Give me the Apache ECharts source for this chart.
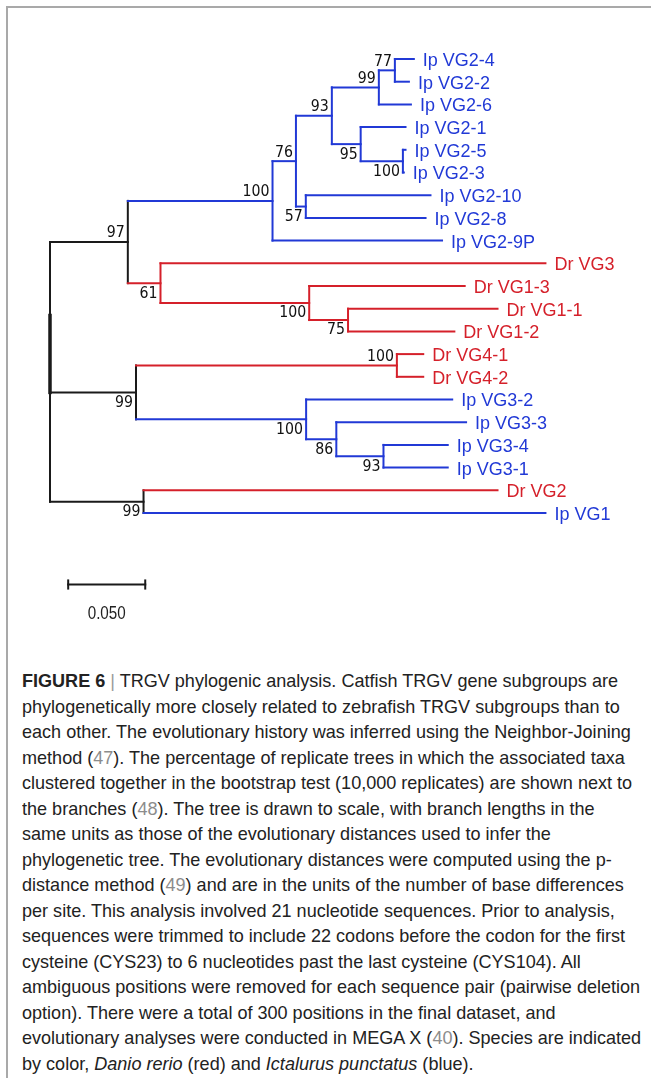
<!DOCTYPE html>
<html>
<head>
<meta charset="utf-8">
<script src="https://cdn.jsdelivr.net/npm/echarts@6/dist/echarts.min.js"></script>
<style>
html, body { margin: 0; padding: 0; background: #fff; width: 651px; height: 1078px; overflow: hidden; }
.frame { position: absolute; left: 6px; top: 6px; width: 700px; height: 1100px; border-top: 2px solid #a9a9a9; border-left: 2px solid #a9a9a9; }
#tree { position: absolute; left: 0; top: 0; width: 651px; height: 640px; }
.caption { position: absolute; left: 22px; top: 668px; font-family: 'Liberation Sans Narrow', 'Arial Narrow', 'Liberation Sans', Arial, sans-serif; font-size: 19px; color: #222; white-space: nowrap; transform-origin: 0 0; }
.caption div { height: 25.5px; line-height: 25.5px; }
.ref { color: #8c8c8c; }
.sep { color: #9a9a9a; }
</style>
</head>
<body>
<div class="frame"></div>
<div id="tree"></div>
<div class="caption" id="caption">
<div id="firstLine"><b>FIGURE 6</b> <span class="sep">|</span> TRGV phylogenic analysis. Catfish TRGV gene subgroups are</div>
<div>phylogenetically more closely related to zebrafish TRGV subgroups than to</div>
<div>each other. The evolutionary history was inferred using the Neighbor-Joining</div>
<div>method (<span class="ref">47</span>). The percentage of replicate trees in which the associated taxa</div>
<div>clustered together in the bootstrap test (10,000 replicates) are shown next to</div>
<div>the branches (<span class="ref">48</span>). The tree is drawn to scale, with branch lengths in the</div>
<div>same units as those of the evolutionary distances used to infer the</div>
<div>phylogenetic tree. The evolutionary distances were computed using the p-</div>
<div>distance method (<span class="ref">49</span>) and are in the units of the number of base differences</div>
<div>per site. This analysis involved 21 nucleotide sequences. Prior to analysis,</div>
<div>sequences were trimmed to include 22 codons before the codon for the first</div>
<div>cysteine (CYS23) to 6 nucleotides past the last cysteine (CYS104). All</div>
<div>ambiguous positions were removed for each sequence pair (pairwise deletion</div>
<div>option). There were a total of 300 positions in the final dataset, and</div>
<div>evolutionary analyses were conducted in MEGA X (<span class="ref">40</span>). Species are indicated</div>
<div>by color, <i>Danio rerio</i> (red) and <i>Ictalurus punctatus</i> (blue).</div>
</div>
<script>
// 叶子节点(从上到下)
const leafNames = ['Ip VG2-4', 'Ip VG2-2', 'Ip VG2-6', 'Ip VG2-1', 'Ip VG2-5', 'Ip VG2-3', 'Ip VG2-10', 'Ip VG2-8', 'Ip VG2-9P',
    'Dr VG3', 'Dr VG1-3', 'Dr VG1-1', 'Dr VG1-2', 'Dr VG4-1', 'Dr VG4-2',
    'Ip VG3-2', 'Ip VG3-3', 'Ip VG3-4', 'Ip VG3-1', 'Dr VG2', 'Ip VG1']
// 叶子到根的距离
const leafDepth = [0.2361, 0.2329, 0.2342, 0.2307, 0.2307, 0.2296, 0.2469, 0.2437, 0.2544,
    0.3215, 0.2691, 0.2904, 0.2624, 0.2422, 0.2422,
    0.2610, 0.2700, 0.2581, 0.2581, 0.2904, 0.3215]

// 内部节点, 子节点要先于父节点出现
const nodeIds = ['n77', 'n99a', 'n100a', 'n95', 'n93a', 'n57', 'n76', 'n100b', 'n75', 'n100c', 'n61', 'n97',
    'n100d', 'n93b', 'n86', 'n100e', 'n99b', 'n99c', 'root']
const nodeChildren = [[0, 1], ['n77', 2], [4, 5], [3, 'n100a'], ['n99a', 'n95'], [6, 7], ['n93a', 'n57'], ['n76', 8],
    [11, 12], [10, 'n75'], [9, 'n100c'], ['n100b', 'n61'],
    [13, 14], [17, 18], [16, 'n93b'], [15, 'n86'], ['n100d', 'n100e'], [19, 20], ['n97', 'n99b', 'n99c']]
const nodeDepth = [0.2238, 0.2134, 0.2290, 0.2016, 0.1829, 0.1660, 0.1596, 0.1444, 0.1934, 0.1682, 0.0717, 0.0505,
    0.2251, 0.2164, 0.1858, 0.1662, 0.0558, 0.0607, 0]
// bootstrap 值
const nodeSupport = [77, 99, 100, 95, 93, 57, 76, 100, 75, 100, 61, 97, 100, 93, 86, 100, 99, 99, null]
const supportAbove = [1, 1, 0, 0, 1, 0, 1, 1, 0, 0, 0, 1, 1, 0, 0, 0, 0, 0, 0]

// 比例尺
const scaleBarStart = 0.0118
const scaleBarLength = 0.05
const scaleBarRow = 23.15
const scaleBarText = '0.050'
const rootBoldFrom = 11.3

const RED = '#d5202a'
const BLUE = '#2139d6'
const BLACK = '#1a1a1a'

function speciesColor(name) {
    return name.indexOf('Dr') === 0 ? RED : BLUE
}

// 计算节点位置和颜色
const pos = {}
leafNames.forEach((n, i) => {
    pos[i] = { x: leafDepth[i], y: i, color: speciesColor(n) }
})
nodeIds.forEach((id, k) => {
    const ch = nodeChildren[k].map(c => pos[c])
    const y = (ch[0].y + ch[ch.length - 1].y) / 2
    const same = ch.every(c => c.color === ch[0].color)
    pos[id] = { x: nodeDepth[k], y: y, color: same ? ch[0].color : BLACK, children: ch }
})

// 枝条线段 [x1, y1, x2, y2]
const segments = []
const segStyle = []
nodeIds.forEach(id => {
    const nd = pos[id]
    const ch = nd.children
    segments.push([nd.x, ch[0].y, nd.x, ch[ch.length - 1].y])
    segStyle.push({ color: nd.color, width: 2 })
    ch.forEach(c => {
        segments.push([nd.x, c.y, c.x, c.y])
        segStyle.push({ color: c.color, width: 2 })
    })
})
// 根部加粗的一段
segments.push([0, rootBoldFrom, 0, pos['n99b'].y])
segStyle.push({ color: BLACK, width: 3.5 })
// 比例尺线
const capH = 0.18
segments.push([scaleBarStart, scaleBarRow, scaleBarStart + scaleBarLength, scaleBarRow])
segments.push([scaleBarStart, scaleBarRow - capH, scaleBarStart, scaleBarRow + capH])
segments.push([scaleBarStart + scaleBarLength, scaleBarRow - capH, scaleBarStart + scaleBarLength, scaleBarRow + capH])
for (let i = 0; i < 3; i++) segStyle.push({ color: BLACK, width: 2 })

// 文字宽度, 用来压窄
function textWidth(txt, font) {
    const ctx = document.createElement('canvas').getContext('2d')
    ctx.font = font
    return ctx.measureText(txt).width
}
const narrowFont = "'Liberation Sans Narrow', 'Arial Narrow', 'Liberation Sans', Arial, sans-serif"
const supportFont = "15px 'DejaVu Sans', Verdana, sans-serif"
const scaleTextSX = 38 / textWidth(scaleBarText, '18px ' + narrowFont)
const supportSX = 27 / textWidth('100', supportFont)

const myChart = echarts.init(document.querySelector('#tree'))
const option = {
    animation: false,
    grid: { left: 50, top: 59, width: 603, height: 25 * 22.7 },
    xAxis: { type: 'value', min: 0, max: 0.39, show: false },
    yAxis: { type: 'value', min: 0, max: 25, inverse: true, show: false },
    series: [
        {
            type: 'custom',
            coordinateSystem: 'cartesian2d',
            data: segments,
            encode: { x: [0, 2], y: [1, 3] },
            renderItem: function (params, api) {
                const p1 = api.coord([api.value(0), api.value(1)])
                const p2 = api.coord([api.value(2), api.value(3)])
                const s = segStyle[params.dataIndex]
                return {
                    type: 'line',
                    shape: { x1: p1[0], y1: p1[1], x2: p2[0], y2: p2[1] },
                    style: { stroke: s.color, lineWidth: s.width, lineCap: 'square' }
                }
            }
        },
        {
            // 叶子名称
            type: 'custom',
            coordinateSystem: 'cartesian2d',
            data: leafNames.map((n, i) => [leafDepth[i], i]),
            renderItem: function (params, api) {
                const p = api.coord([api.value(0), api.value(1)])
                const name = leafNames[params.dataIndex]
                return {
                    type: 'text',
                    x: p[0] + 9,
                    y: p[1] + 2,
                    style: {
                        text: name, fill: speciesColor(name),
                        font: "18px 'Liberation Sans', Arial, sans-serif",
                        align: 'left', verticalAlign: 'middle'
                    }
                }
            }
        },
        {
            // bootstrap
            type: 'custom',
            coordinateSystem: 'cartesian2d',
            data: nodeIds.map(id => [pos[id].x, pos[id].y]),
            renderItem: function (params, api) {
                const k = params.dataIndex
                if (nodeSupport[k] == null) return null
                const p = api.coord([api.value(0), api.value(1)])
                const above = supportAbove[k] === 1
                return {
                    type: 'text',
                    x: p[0] - 3,
                    y: above ? p[1] - 1 : p[1] + 3,
                    scaleX: supportSX,
                    style: {
                        text: String(nodeSupport[k]), fill: '#111',
                        font: supportFont,
                        align: 'right', verticalAlign: above ? 'bottom' : 'top'
                    }
                }
            }
        },
        {
            // 比例尺文字
            type: 'custom',
            coordinateSystem: 'cartesian2d',
            data: [[scaleBarStart + scaleBarLength / 2, scaleBarRow]],
            renderItem: function (params, api) {
                const p = api.coord([api.value(0), api.value(1)])
                return {
                    type: 'text',
                    x: p[0],
                    y: p[1] + 30,
                    scaleX: scaleTextSX,
                    style: {
                        text: scaleBarText, fill: '#222',
                        font: '18px ' + narrowFont,
                        align: 'center', verticalAlign: 'middle'
                    }
                }
            }
        }
    ]
}
myChart.setOption(option)

// 图注整体压窄, 让第一行宽度和原图一致
const cap = document.querySelector('#caption')
const first = document.querySelector('#firstLine')
const range = document.createRange()
range.selectNodeContents(first)
const w = range.getBoundingClientRect().width
cap.style.transform = 'scaleX(' + (596 / w) + ')'
</script>
</body>
</html>
